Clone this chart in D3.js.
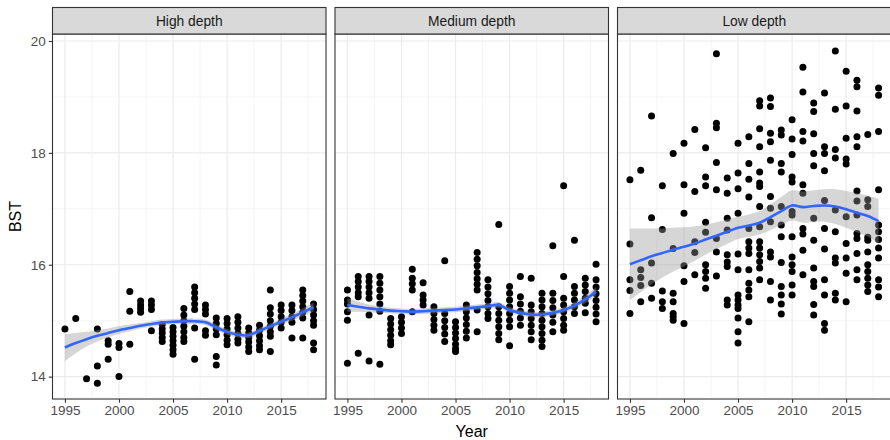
<!DOCTYPE html>
<html><head><meta charset="utf-8">
<script src="https://cdn.jsdelivr.net/npm/d3@7"></script>
<style>body{margin:0;background:#fff;} svg{display:block;font-family:"Liberation Sans",Arial,sans-serif;}</style>
</head><body><svg id="c" width="890" height="440"></svg>
<script>
const years = [1995,1996,1997,1998,1999,2000,2001,2002,2003,2004,2005,2006,2007,2008,2009,2010,2011,2012,2013,2014,2015,2016,2017,2018];
const panelNames = ["High depth","Medium depth","Low depth"];
const xTicks = [1995,2000,2005,2010,2015];
const xMinor = [1997.5,2002.5,2007.5,2012.5,2017.5];
const yTicks = [14,16,18,20];
const yMinor = [15,17,19];

const highDepth = [
 [14.85],
 [15.04],
 [13.96],
 [14.85,14.19,13.88],
 [14.64,14.58,14.31],
 [14.59,14.52,14.0],
 [15.52,15.17,14.58],
 [15.35,15.28,15.22,15.15],
 [15.35,15.28,15.2,14.82],
 [14.93,14.85,14.78,14.7,14.63],
 [14.88,14.8,14.72,14.64,14.56,14.48,14.4],
 [15.22,15.1,15.0,14.9,14.8,14.7,14.63],
 [15.6,15.5,15.4,15.3,15.2,14.87,14.31],
 [15.28,15.2,15.12,14.82,14.74],
 [15.05,14.95,14.85,14.75,14.36,14.21],
 [15.04,14.95,14.85,14.75,14.65,14.57],
 [15.07,14.97,14.87,14.77,14.67,14.6],
 [14.87,14.78,14.7,14.62,14.53,14.45],
 [14.92,14.83,14.73,14.64,14.55,14.48],
 [15.55,15.23,15.12,15.0,14.9,14.8,14.72,14.45],
 [15.28,15.18,15.07,14.97,14.87],
 [15.28,15.18,15.07,14.97,14.69],
 [15.55,15.45,15.35,15.25,15.15,15.05,14.69],
 [15.3,15.2,15.1,15.0,14.92,14.6,14.48]
];
const mediumDepth = [
 [15.55,15.37,15.3,15.16,15.01,14.24],
 [15.79,15.7,15.6,15.5,15.43,14.42],
 [15.79,15.7,15.6,15.5,15.4,15.1,14.28],
 [15.79,15.67,15.55,15.43,15.3,15.17,14.22],
 [15.04,14.94,14.84,14.74,14.64,14.57],
 [15.07,14.97,14.87,14.77],
 [15.92,15.76,15.66,15.55,15.16],
 [15.68,15.46,15.37,15.28],
 [15.25,15.13,15.02,14.92,14.83],
 [16.07,15.13,15.0,14.88,14.76,14.63],
 [14.98,14.88,14.78,14.68,14.58,14.5,14.45],
 [15.28,15.16,15.05,14.93,14.81,14.69],
 [16.22,16.1,15.98,15.86,15.75,15.65,15.55,15.19,14.8],
 [15.73,15.6,15.48,15.36,15.25,15.13,15.04],
 [16.72,15.25,15.13,15.01,14.89,14.77,14.66],
 [15.61,15.49,15.37,15.25,15.13,15.01,14.89,14.55],
 [15.79,15.43,15.3,15.17,15.05,14.92],
 [15.76,15.28,15.16,15.04,14.92,14.8,14.66],
 [15.49,15.37,15.25,15.13,15.01,14.89,14.77,14.65,14.54],
 [16.34,15.49,15.36,15.23,15.1,14.97,14.8],
 [17.41,15.79,15.4,15.28,15.16,15.04,14.92,14.83],
 [16.44,15.61,15.49,15.37,15.25,15.13],
 [15.76,15.64,15.52,15.4,15.31,15.14],
 [16.01,15.73,15.6,15.48,15.36,15.24,15.12,14.98]
];
const lowDepth = [
 [17.52,16.37,15.73,15.54,15.13],
 [17.69,15.91,15.77,15.63,15.34],
 [18.66,16.84,16.03,15.67,15.4],
 [17.41,16.63,15.53,15.34,15.22],
 [17.99,16.29,15.49,15.34,15.13,15.07,15.01],
 [18.17,17.43,16.92,15.98,15.7,14.95],
 [18.42,17.31,16.41,16.22,15.82],
 [18.09,17.57,17.41,16.76,16.58,16.0,15.88,15.76,15.58],
 [19.77,18.53,18.45,17.83,17.34,16.47,16.23,15.8],
 [17.55,17.28,16.83,16.62,16.18,16.05,15.97,15.37,15.28],
 [18.17,17.64,17.36,16.92,16.19,15.91,15.46,15.37,15.28,15.22,15.05,14.8,14.6],
 [18.29,17.81,17.53,17.21,16.65,16.41,16.3,16.2,15.91,15.67,15.55,15.43,14.98],
 [18.93,18.84,18.43,18.11,17.66,17.46,17.4,17.04,16.68,16.41,16.3,16.18,16.06,15.94,15.73],
 [18.98,18.83,18.35,18.2,17.87,17.22,17.01,16.77,16.23,16.14,15.7,15.37],
 [18.41,18.32,17.81,17.66,17.04,16.71,16.5,16.04,15.61,15.46,15.3,15.12],
 [18.59,18.25,17.97,17.57,17.48,16.95,16.89,16.5,16.14,16.0,15.88,15.64,15.46],
 [19.53,19.09,18.38,18.21,17.43,17.28,16.65,16.55,16.26,15.82],
 [18.89,18.74,18.34,17.99,17.77,16.83,16.44,15.94,15.7,15.61,15.29,15.1],
 [19.07,18.11,17.99,17.68,17.15,16.65,16.28,15.73,15.46,14.95,14.83],
 [19.82,18.78,18.06,17.91,16.98,16.59,16.12,16.03,15.49,15.37],
 [19.46,18.84,18.26,17.89,17.8,16.86,16.38,16.12,15.85,15.34],
 [19.3,19.18,18.75,18.29,18.11,17.32,17.14,16.89,16.56,16.47,16.2,15.91,15.73],
 [18.33,17.16,17.04,16.49,16.44,16.23,16.0,15.88,15.76,15.64,15.52],
 [19.16,19.03,18.38,17.34,16.71,16.59,16.45,16.3,16.12,15.73,15.6,15.43]
];

const highFit = [14.52,14.6,14.67,14.73,14.78,14.83,14.87,14.91,14.94,14.97,14.98,14.99,14.99,14.97,14.88,14.8,14.75,14.74,14.82,14.9,14.98,15.06,15.15,15.24];
const highSe  = [0.24,0.18,0.13,0.1,0.08,0.07,0.06,0.05,0.05,0.05,0.05,0.05,0.05,0.05,0.05,0.05,0.05,0.05,0.05,0.05,0.05,0.06,0.07,0.08];
const mediumFit = [15.28,15.25,15.22,15.2,15.18,15.17,15.16,15.17,15.18,15.19,15.2,15.22,15.24,15.26,15.28,15.19,15.14,15.11,15.11,15.14,15.19,15.27,15.38,15.52];
const mediumSe  = [0.12,0.09,0.07,0.06,0.05,0.05,0.05,0.05,0.05,0.05,0.05,0.05,0.05,0.05,0.05,0.05,0.05,0.05,0.05,0.05,0.05,0.06,0.07,0.08];
const lowFit = [16.01,16.08,16.15,16.21,16.27,16.32,16.38,16.45,16.52,16.59,16.66,16.7,16.75,16.85,16.96,17.06,17.03,17.05,17.06,17.04,16.99,16.93,16.87,16.78];
const lowSe  = [0.64,0.57,0.5,0.44,0.39,0.35,0.31,0.27,0.24,0.22,0.2,0.2,0.21,0.23,0.25,0.27,0.28,0.28,0.29,0.31,0.33,0.35,0.37,0.4];

const panelPoints = [highDepth, mediumDepth, lowDepth];
const panelFits = [highFit, mediumFit, lowFit];
const panelSes = [highSe, mediumSe, lowSe];

const svg = d3.select("#c");
const panelW = 273.5, panelTop = 34, panelBottom = 399, stripTop = 7.5;
const panelLefts = [52.5, 335, 617.5];
const x = d3.scaleLinear().domain([1993.85, 2019.15]).range([0, panelW]);
const y = d3.scaleLinear().domain([13.60, 20.125]).range([panelBottom, panelTop]);
const tickFont = 13.5;

const defs = svg.append("defs");
panelNames.forEach((name, i) => {
  const g = svg.append("g").attr("transform", `translate(${panelLefts[i]},0)`);
  defs.append("clipPath").attr("id", "clip" + i).append("rect")
    .attr("x", 0).attr("y", panelTop).attr("width", panelW).attr("height", panelBottom - panelTop);
  g.append("rect").attr("x", 0).attr("y", panelTop).attr("width", panelW).attr("height", panelBottom - panelTop).attr("fill", "#fff");
  const grid = g.append("g").attr("clip-path", `url(#clip${i})`);
  grid.selectAll(".ymin").data(yMinor).join("line").attr("x1", 0).attr("x2", panelW)
    .attr("y1", d => y(d)).attr("y2", d => y(d)).attr("stroke", "#f0f0f0").attr("stroke-width", 0.7);
  grid.selectAll(".xmin").data(xMinor).join("line").attr("y1", panelTop).attr("y2", panelBottom)
    .attr("x1", d => x(d)).attr("x2", d => x(d)).attr("stroke", "#f0f0f0").attr("stroke-width", 0.7);
  grid.selectAll(".ymaj").data(yTicks).join("line").attr("x1", 0).attr("x2", panelW)
    .attr("y1", d => y(d)).attr("y2", d => y(d)).attr("stroke", "#ebebeb").attr("stroke-width", 1.2);
  grid.selectAll(".xmaj").data(xTicks).join("line").attr("y1", panelTop).attr("y2", panelBottom)
    .attr("x1", d => x(d)).attr("x2", d => x(d)).attr("stroke", "#ebebeb").attr("stroke-width", 1.2);

  const pts = [];
  panelPoints[i].forEach((vals, k) => vals.forEach(v => pts.push([years[k], v])));
  const data = g.append("g").attr("clip-path", `url(#clip${i})`);
  data.selectAll("circle").data(pts).join("circle")
    .attr("cx", d => x(d[0])).attr("cy", d => y(d[1])).attr("r", 3.5).attr("fill", "#000");

  const fit = panelFits[i], se = panelSes[i];
  const band = years.map((yr, k) => ({yr, lo: fit[k] - se[k], hi: fit[k] + se[k], f: fit[k]}));
  data.append("path").datum(band)
    .attr("d", d3.area().x(d => x(d.yr)).y0(d => y(d.lo)).y1(d => y(d.hi)).curve(d3.curveCatmullRom))
    .attr("fill", "#999999").attr("fill-opacity", 0.4);
  data.append("path").datum(band)
    .attr("d", d3.line().x(d => x(d.yr)).y(d => y(d.f)).curve(d3.curveCatmullRom))
    .attr("fill", "none").attr("stroke", "#3366FF").attr("stroke-width", 2.6);

  g.append("rect").attr("x", 0).attr("y", panelTop).attr("width", panelW).attr("height", panelBottom - panelTop)
    .attr("fill", "none").attr("stroke", "#333333").attr("stroke-width", 1.1);
  g.append("rect").attr("x", 0).attr("y", stripTop).attr("width", panelW).attr("height", panelTop - stripTop)
    .attr("fill", "#d9d9d9").attr("stroke", "#333333").attr("stroke-width", 1.1);
  g.append("text").attr("x", panelW / 2).attr("y", (stripTop + panelTop) / 2).attr("dy", "0.35em")
    .attr("text-anchor", "middle").attr("font-size", 13.8).attr("fill", "#1a1a1a").text(name);

  const xa = g.append("g").attr("transform", `translate(0,${panelBottom})`)
    .call(d3.axisBottom(x).tickValues(xTicks).tickFormat(d3.format("d")).tickSize(3.7).tickPadding(2.5).tickSizeOuter(0));
  xa.select(".domain").remove();
  xa.selectAll("line").attr("stroke", "#333333").attr("stroke-width", 1.1);
  xa.selectAll("text").attr("fill", "#4d4d4d").attr("font-size", tickFont).attr("font-family", '"Liberation Sans",Arial,sans-serif');

  if (i === 0) {
    const ya = g.append("g").call(d3.axisLeft(y).tickValues(yTicks).tickFormat(d3.format("d")).tickSize(3.7).tickPadding(3).tickSizeOuter(0));
    ya.select(".domain").remove();
    ya.selectAll("line").attr("stroke", "#333333").attr("stroke-width", 1.1);
    ya.selectAll("text").attr("fill", "#4d4d4d").attr("font-size", tickFont).attr("font-family", '"Liberation Sans",Arial,sans-serif');
  }
});

svg.append("text").attr("x", (panelLefts[0] + panelLefts[2] + panelW) / 2).attr("y", 437)
  .attr("text-anchor", "middle").attr("font-size", 16).attr("fill", "#000").text("Year");
svg.append("text").attr("transform", `translate(21,${(panelTop + panelBottom) / 2}) rotate(-90)`)
  .attr("text-anchor", "middle").attr("font-size", 16).attr("fill", "#000").text("BST");
</script></body></html>
